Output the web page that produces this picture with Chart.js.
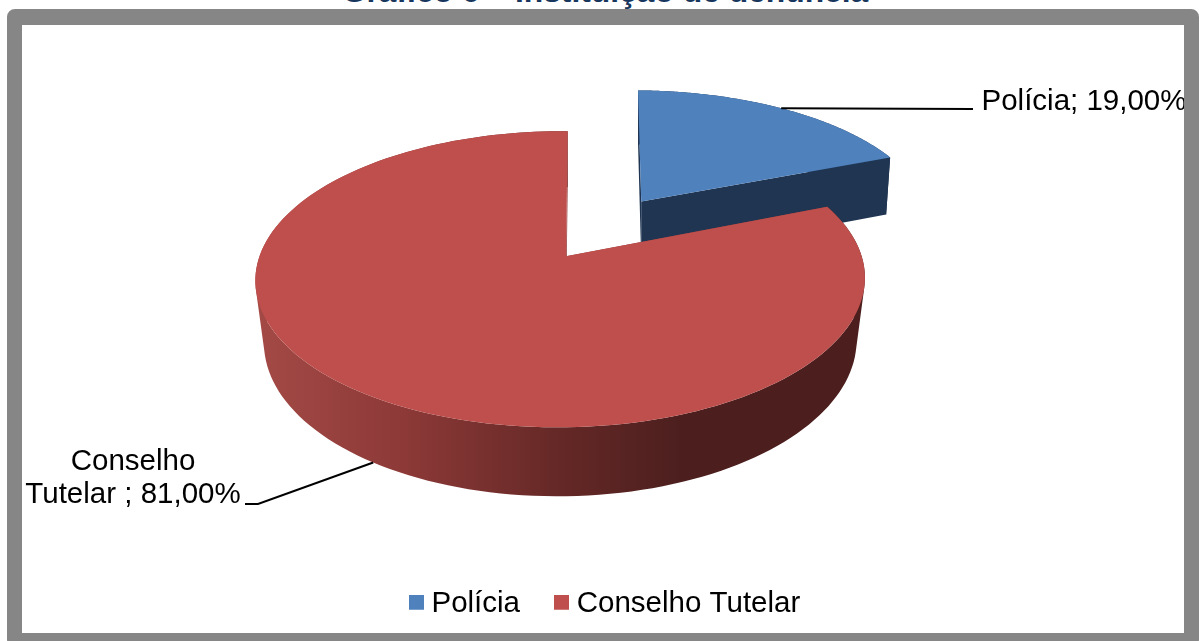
<!DOCTYPE html>
<html lang="pt">
<head>
<meta charset="utf-8">
<title>Instituição de denúncia</title>
<script src="https://cdn.jsdelivr.net/npm/chart.js@4/dist/chart.umd.js"></script>
<style>
    html, body { margin: 0; height: 100%; overflow: hidden; background: #fff; }
    h2 {
        position: absolute; left: 22px; width: 1166px; top: -27px; margin: 0;
        text-align: center; white-space: pre;
        font: bold 31.8px "Liberation Sans", Arial, sans-serif; line-height: 36px; color: #17365d;
    }
    .moldura {
        position: absolute; left: 7px; top: 9px; width: 1192px; height: 639px;
        box-sizing: border-box; border: 15px solid #868686; border-top-width: 16px; border-radius: 8px;
        background: #fff;
    }
    canvas { display: block; }
</style>
</head>
<body>
<h2>Gráfico 6 – Instituição de denúncia</h2>
<div class="moldura"><canvas id="grafico" width="1162" height="608"></canvas></div>
<script>
const categorias = ['Polícia', 'Conselho Tutelar ']
const valores = [19, 81]
const cores = ['#4F81BD', '#BE4F4C']

const fonte = '"Liberation Sans", Arial, sans-serif'

// perspective of the pie floor
const perspectiva = { p: 0.1554, q: -0.018, achatado: 0.48, inclina: -0.0066 }
const centroDesloc = { x: -42, y: -30.5 }
// the pulled-out slice is drawn a little smaller, it sits further back
const fatia = { xx: 0.96, xy: 0.039, yy: 0.888, estreita: 0.984 }
const parede = { altura: 61.4, cresce: 0.044, estreita: 0.972 }

// label box and elbow of each leader line
const rotulos = [
    { x: 1062, y: 77, linha: [[951, 84]] },
    { x: 111, y: 437, linha: [[236, 479], [223, 479]] }
]

function piso(angulo, R) {
    const u = Math.cos(angulo), v = Math.sin(angulo)
    const w = 1 - perspectiva.p * v - perspectiva.q * u
    return { x: R * (u + perspectiva.inclina * v) / w, y: R * perspectiva.achatado * v / w }
}

function geometria(arc) {
    const R = arc.outerRadius
    const cx = arc.x + centroDesloc.x
    const cy = arc.y + centroDesloc.y
    const meio = (arc.startAngle + arc.endAngle) / 2
    const offset = arc.options.offset
    const estreita = offset > 0 ? fatia.estreita : parede.estreita
    let ax = cx, ay = cy
    if (offset > 0) {
        const s = piso(meio, R)
        const k = offset / R
        const w = 1 - perspectiva.p * Math.sin(meio) * k - perspectiva.q * Math.cos(meio) * k
        ax += fatia.xx * s.x * k * (1 - perspectiva.p * Math.sin(meio) - perspectiva.q * Math.cos(meio)) / w
        ay += s.y * k * (1 - perspectiva.p * Math.sin(meio) - perspectiva.q * Math.cos(meio)) / w
    }
    const topo = function (angulo) {
        const s = piso(angulo, R)
        if (offset > 0) return { x: ax + fatia.xx * s.x + fatia.xy * s.y, y: ay + fatia.yy * s.y }
        return { x: ax + s.x, y: ay + s.y }
    }
    const fundo = function (pt) {
        return { x: ax + (pt.x - ax) * estreita, y: pt.y + parede.altura + parede.cresce * (pt.y - cy) }
    }
    return { ax, ay, meio, topo, fundo }
}

function aresta(arc, g) {
    const pts = []
    const passos = 160
    for (let i = 0; i <= passos; i++) {
        pts.push(g.topo(arc.startAngle + (arc.endAngle - arc.startAngle) * i / passos))
    }
    return pts
}

function traca(ctx, pts) {
    pts.forEach(function (pt, i) {
        if (i === 0) ctx.moveTo(pt.x, pt.y)
        else ctx.lineTo(pt.x, pt.y)
    })
    ctx.closePath()
}

function preenche(ctx, pts, cor) {
    ctx.beginPath()
    traca(ctx, pts)
    ctx.fillStyle = cor
    ctx.fill()
}

function area(q) {
    let soma = 0
    q.forEach(function (pt, i) {
        const prox = q[(i + 1) % q.length]
        soma += pt.x * prox.y - prox.x * pt.y
    })
    return soma
}

// outer wall as one path of small quads, all wound the same way, so its silhouette
// follows the tangents of both rims and no seams show between them
function fita(ctx, borda, g, cor) {
    ctx.beginPath()
    for (let i = 0; i < borda.length - 1; i++) {
        const a = borda[i], b = borda[i + 1]
        const q = [a, b, g.fundo(b), g.fundo(a)]
        traca(ctx, area(q) < 0 ? q.reverse() : q)
    }
    ctx.fillStyle = cor
    ctx.fill()
}

function corParede(ctx, indice) {
    if (indice === 0) return '#1f3552'
    const grad = ctx.createLinearGradient(234, 0, 660, 0)
    grad.addColorStop(0, '#a44a46')
    grad.addColorStop(0.35, '#8c3937')
    grad.addColorStop(0.72, '#642826')
    grad.addColorStop(1, '#4c1f1e')
    return grad
}

function textoRotulo(i) {
    return categorias[i] + '; ' + valores[i].toFixed(2).replace('.', ',') + '%'
}

function quebraLinhas(ctx, texto, largura) {
    const linhas = []
    let atual = ''
    texto.split(' ').forEach(function (palavra) {
        const teste = atual ? atual + ' ' + palavra : palavra
        if (atual && ctx.measureText(teste).width > largura) {
            linhas.push(atual)
            atual = palavra
        } else {
            atual = teste
        }
    })
    linhas.push(atual)
    return linhas
}

const pizza3d = {
    id: 'pizza3d',
    beforeDatasetsDraw(chart) {
        const ctx = chart.ctx
        const arcs = chart.getDatasetMeta(0).data
        ctx.save()
        arcs.forEach(function (arc, i) {
            const g = geometria(arc)
            const borda = aresta(arc, g)
            const centro = { x: g.ax, y: g.ay }
            const baseCentro = g.fundo(centro)
            const paredeCor = corParede(ctx, i)
            const lateral = i === 0 ? paredeCor : '#8f3d3a'

            // outer wall, then the two cut faces, and the top goes over them
            const ini = borda[0], fim = borda[borda.length - 1]
            fita(ctx, borda, g, paredeCor)
            preenche(ctx, [centro, ini, g.fundo(ini), baseCentro], lateral)
            preenche(ctx, [centro, fim, g.fundo(fim), baseCentro], lateral)
            preenche(ctx, [centro].concat(borda), arc.options.backgroundColor)
        })

        // leader lines and value labels
        ctx.font = '29.5px ' + fonte
        ctx.fillStyle = '#000'
        ctx.strokeStyle = '#000'
        ctx.lineWidth = 2
        ctx.textAlign = 'center'
        ctx.textBaseline = 'middle'
        arcs.forEach(function (arc, i) {
            const g = geometria(arc)
            let inicio = g.topo(g.meio)
            if (Math.sin(g.meio) > 0) inicio = g.fundo(inicio)
            ctx.beginPath()
            ctx.moveTo(inicio.x, inicio.y)
            rotulos[i].linha.forEach(function (pt) { ctx.lineTo(pt[0], pt[1]) })
            ctx.stroke()
            quebraLinhas(ctx, textoRotulo(i), 222).forEach(function (linha, n) {
                ctx.fillText(linha, rotulos[i].x, rotulos[i].y + n * 33)
            })
        })
        ctx.restore()
        return false
    }
}

// legend square, the spare rows below it lift it to the middle of the text
function amostra(cor) {
    const c = document.createElement('canvas')
    c.width = 15
    c.height = 19
    const g = c.getContext('2d')
    g.fillStyle = cor
    g.fillRect(0, 0, 15, 15)
    return c
}

new Chart(document.getElementById('grafico'), {
    type: 'pie',
    data: {
        labels: categorias,
        datasets: [{
            data: valores,
            backgroundColor: cores,
            borderWidth: 0,
            offset: [147.5, 0]
        }]
    },
    plugins: [pizza3d],
    options: {
        responsive: false,
        animation: false,
        radius: 301,
        layout: { padding: { left: 10, bottom: 4 } },
        plugins: {
            tooltip: { enabled: false },
            legend: {
                position: 'bottom',
                labels: {
                    usePointStyle: true,
                    boxWidth: 1,
                    boxHeight: 15,
                    padding: 41,
                    color: '#000',
                    font: { family: fonte, size: 29.5 },
                    generateLabels: function () {
                        return categorias.map(function (nome, i) {
                            return { text: nome.trim(), pointStyle: amostra(cores[i]), fontColor: '#000', lineWidth: 0, index: i }
                        })
                    }
                }
            }
        }
    }
})
</script>
</body>
</html>
